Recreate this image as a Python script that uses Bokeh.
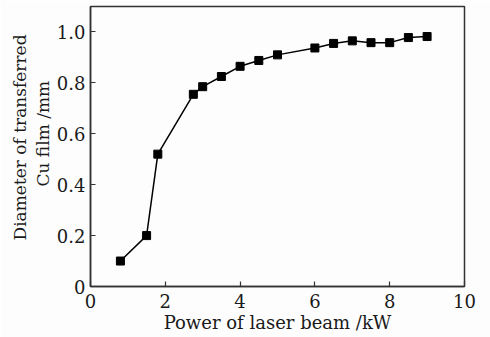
from bokeh.plotting import figure
from bokeh.models import FixedTicker, PrintfTickFormatter, Range1d, Title
from bokeh.embed import file_html
from bokeh.resources import INLINE

power_kw = [0.8, 1.5, 1.8, 2.75, 3.0, 3.5, 4.0, 4.5, 5.0, 6.0, 6.5, 7.0, 7.5, 8.0, 8.5, 9.0]
diameter_mm = [0.10, 0.20, 0.52, 0.755, 0.785, 0.825, 0.865, 0.888, 0.91, 0.937, 0.955, 0.965, 0.958, 0.958, 0.978, 0.982]
x_ticks = [0, 2, 4, 6, 8, 10]
y_ticks = [0, 0.2, 0.4, 0.6, 0.8, 1.0]
y_title_lines = ["Diameter of transferred", "Cu film /mm"]

FONT = "DejaVu Serif"
INK = "#1a1a1a"

p = figure(width=490, height=337, output_backend="svg", toolbar_location=None,
           x_range=Range1d(0, 10), y_range=Range1d(0, 1.1),
           background_fill_color="#fdfdfd", border_fill_color="#fdfdfd")
p.min_border_left = 90
p.min_border_right = 26
p.min_border_top = 6
p.min_border_bottom = 51

p.grid.visible = False
p.outline_line_color = "#333333"
p.outline_line_width = 1.5

for ax in (p.xaxis[0], p.yaxis[0]):
    ax.axis_line_color = "#333333"
    ax.axis_line_width = 1.5
    ax.major_tick_in = 5
    ax.major_tick_out = 0
    ax.major_tick_line_color = "#333333"
    ax.major_tick_line_width = 1.2
    ax.minor_tick_line_color = None
    ax.major_label_text_font = FONT
    ax.major_label_text_font_size = "18px"
    ax.major_label_text_color = INK
    ax.axis_label_text_font = FONT
    ax.axis_label_text_font_size = "18px"
    ax.axis_label_text_font_style = "normal"
    ax.axis_label_text_color = INK

p.xaxis.ticker = FixedTicker(ticks=x_ticks)
p.yaxis.ticker = FixedTicker(ticks=y_ticks)
p.yaxis.formatter = PrintfTickFormatter(format="%.1f")
p.yaxis.major_label_overrides = {0: "0"}
p.xaxis.major_label_standoff = 7
p.yaxis.major_label_standoff = 5
p.xaxis.axis_label = "Power of laser beam /kW"
p.xaxis.axis_label_standoff = 1

# y title: two centered lines, shifted a little upward as in the reference
for text, off, so in ((y_title_lines[1], 100, 2), (y_title_lines[0], 46, 0)):
    t = Title(text=text, align="left", offset=off, standoff=so,
              text_font=FONT, text_font_size="17px", text_font_style="normal",
              text_color=INK)
    p.add_layout(t, "left")

p.line(power_kw, diameter_mm, line_color="black", line_width=1.5)
p.scatter(power_kw, diameter_mm, marker="square", size=8, fill_color="black", line_color="black")

open("out.html", "w").write(file_html(p, INLINE))
